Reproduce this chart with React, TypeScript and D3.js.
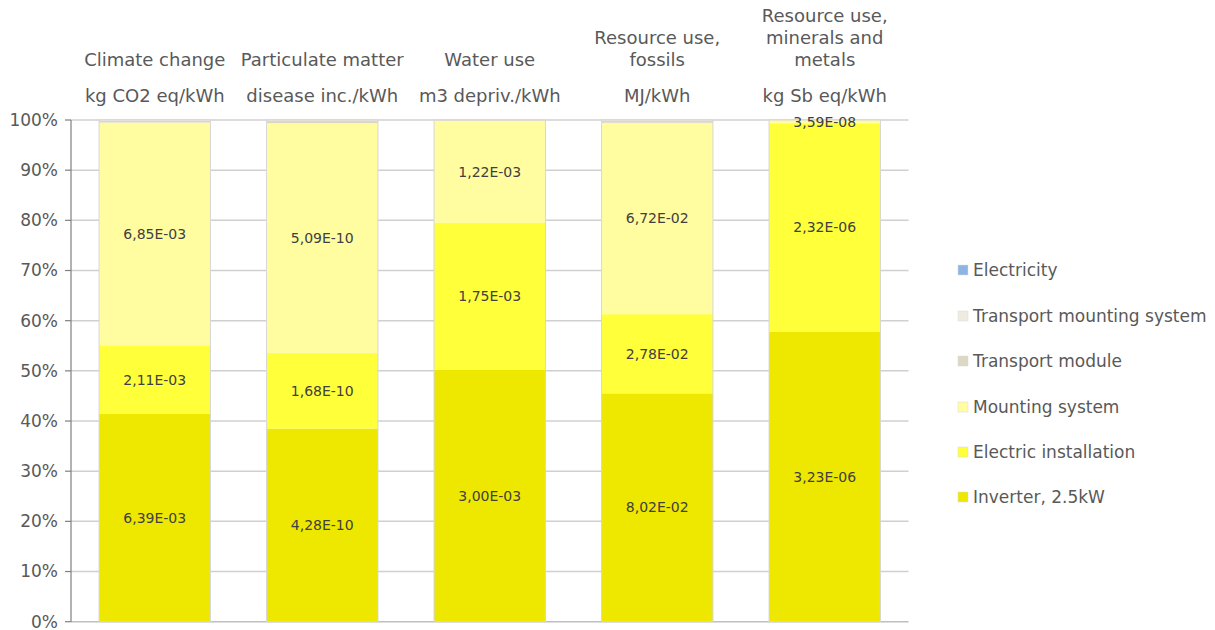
import React from "react";
import * as d3 from "d3";

const categories = ["Climate change", "Particulate matter", "Water use", "Resource use, fossils", "Resource use, minerals and metals"];
const categoryLines = [["Climate change"], ["Particulate matter"], ["Water use"], ["Resource use,", "fossils"], ["Resource use,", "minerals and", "metals"]];
const units = ["kg CO2 eq/kWh", "disease inc./kWh", "m3 depriv./kWh", "MJ/kWh", "kg Sb eq/kWh"];

const seriesNames = ["Inverter, 2.5kW", "Electric installation", "Mounting system", "Transport module", "Transport mounting system", "Electricity"];
const seriesColors = ["#EEE800", "#FFFF3A", "#FFFDA0", "#DDD8C3", "#EEECE1", "#8EB4E3"];

// absolute values per category (same order as categories)
const inverter = [6.39e-3, 4.28e-10, 3.0e-3, 8.02e-2, 3.23e-6];
const electricInstallation = [2.11e-3, 1.68e-10, 1.75e-3, 2.78e-2, 2.32e-6];
const mountingSystem = [6.85e-3, 5.09e-10, 1.22e-3, 6.72e-2, 3.59e-8];
const transportModule = [0.05e-3, 0.05e-10, 0.004e-3, 0.07e-2, 0.0002e-6];
const transportMounting = [0.03e-3, 0.02e-10, 0.002e-3, 0.03e-2, 0.0001e-6];
const electricity = [0, 0, 0, 0, 0];

const labelInverter = ["6,39E-03", "4,28E-10", "3,00E-03", "8,02E-02", "3,23E-06"];
const labelElectric = ["2,11E-03", "1,68E-10", "1,75E-03", "2,78E-02", "2,32E-06"];
const labelMounting = ["6,85E-03", "5,09E-10", "1,22E-03", "6,72E-02", "3,59E-08"];

const yTicks = [0, 0.1, 0.2, 0.3, 0.4, 0.5, 0.6, 0.7, 0.8, 0.9, 1.0];

const W = 1215;
const H = 630;
const FONT = "'DejaVu Sans', sans-serif";

export default function App() {
  const series = [inverter, electricInstallation, mountingSystem, transportModule, transportMounting, electricity];
  const labels = [labelInverter, labelElectric, labelMounting, null, null, null];
  const left = 71, right = 908.5, top = 120, bottom = 621.7;
  const x = d3.scaleBand<string>().domain(categories).range([left, right]).paddingInner(0.335).paddingOuter(0.1675);
  const y = d3.scaleLinear().domain([0, 1]).range([bottom, top]);

  const rows = categories.map((c, i) => {
    const obj: any = { cat: c };
    seriesNames.forEach((s, k) => (obj[s] = series[k][i]));
    return obj;
  });
  const stacked = d3.stack<any>().keys(seriesNames).offset(d3.stackOffsetExpand)(rows);

  const textColor = "#595959";
  const legendY = [497, 452, 407, 361, 316, 270];

  return (
    <svg width={W} height={H} style={{ position: "absolute", left: 0, top: 0 }} fontFamily={FONT}>
      <rect width={W} height={H} fill="#fff" />
      {yTicks.map((t) => (
        <g key={t}>
          <line x1={left} x2={right} y1={y(t)} y2={y(t)} stroke={t === 0 ? "#bfbfbf" : "#d0d0d0"} strokeWidth={1.5} />
          <line x1={left - 6} x2={left} y1={y(t)} y2={y(t)} stroke="#7f7f7f" strokeWidth={1.2} />
          <text x={left - 13} y={y(t)} dy="0.35em" textAnchor="end" fontSize={17} fill={textColor}>
            {Math.round(t * 100) + "%"}
          </text>
        </g>
      ))}
      <line x1={left} x2={left} y1={top} y2={bottom} stroke="#7f7f7f" strokeWidth={1.2} />
      {stacked.map((s, k) => (
        <g key={s.key}>
          {s.map((d, i) => {
            const h = y(d[0]) - y(d[1]);
            if (h <= 0) return null;
            return (
              <rect key={i} x={x(categories[i])!} width={x.bandwidth()} y={y(d[1])} height={h} fill={seriesColors[k]} />
            );
          })}
        </g>
      ))}
      {categories.map((c) => (
        <rect key={c} x={x(c)!} width={x.bandwidth()} y={top} height={bottom - top} fill="none" stroke="#d6d6d6" strokeWidth={1} />
      ))}
      {stacked.map((s, k) =>
        labels[k]
          ? s.map((d, i) => (
              <text
                key={s.key + i}
                x={x(categories[i])! + x.bandwidth() / 2}
                y={y((d[0] + d[1]) / 2)}
                dy="0.35em"
                textAnchor="middle"
                fontSize={14}
                fill="#404040"
              >
                {labels[k]![i]}
              </text>
            ))
          : null
      )}
      {categories.map((c, i) => {
        const cx = x(c)! + x.bandwidth() / 2;
        const lines = categoryLines[i];
        return (
          <g key={c}>
            {lines.map((l, j) => (
              <text key={j} x={cx} y={60 - (lines.length - 1 - j) * 22} dy="0.35em" textAnchor="middle" fontSize={18} fill={textColor}>
                {l}
              </text>
            ))}
            <text x={cx} y={96} dy="0.35em" textAnchor="middle" fontSize={18} fill={textColor}>
              {units[i]}
            </text>
          </g>
        );
      })}
      {seriesNames.map((s, k) => (
        <g key={s}>
          <rect x={958} y={legendY[k] - 5} width={10} height={10} fill={seriesColors[k]} stroke="#d9d9d9" strokeWidth={0.5} />
          <text x={973} y={legendY[k]} dy="0.35em" fontSize={17} fill={textColor}>
            {s}
          </text>
        </g>
      ))}
    </svg>
  );
}
